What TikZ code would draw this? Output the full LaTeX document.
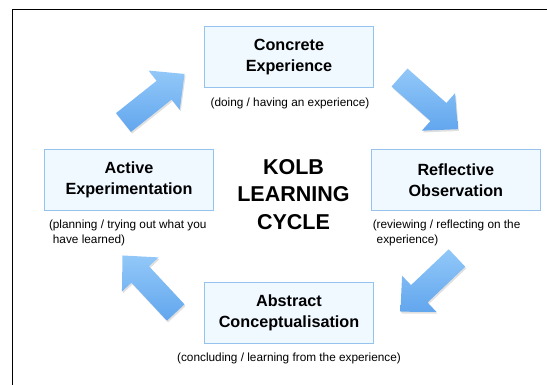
\documentclass[tikz,border=0pt]{standalone}
\usepackage{fontspec}
\setmainfont{Liberation Sans}
\definecolor{boxfill}{HTML}{F0F9FF}
\definecolor{boxline}{HTML}{96C2EE}
\definecolor{arrowlight}{HTML}{92C8F8}
\definecolor{arrowdark}{HTML}{62A6EE}
\newcommand\kolbarrow[4]{%
  \fill[black,opacity=0.12,shift={(#1+1,#2+1.8)},rotate=#3]
    (0,-12)--(52,-12)--(52,-25)--(78,0)--(52,25)--(52,12)--(0,12)--cycle;
  \shade[top color=arrowlight,bottom color=arrowdark,shift={(#1,#2)},rotate=#3]
    (0,-12)--(52,-12)--(52,-25)--(78,0)--(52,25)--(52,12)--(0,12)--cycle;
  \coordinate (#4) at (#1,#2);}
\tikzset{
  stagebox/.style={draw=boxline, fill=boxfill, line width=0.9pt,
    minimum width=169pt, minimum height=60.7pt, align=center, inner sep=0pt,
    font=\fontsize{16.2}{21}\selectfont\bfseries},
  captext/.style={font=\fontsize{11.8}{15}\selectfont, inner sep=0pt, align=left},
  titletext/.style={font=\fontsize{21.5}{27.5}\selectfont\bfseries, align=center, inner sep=0pt},
  frameline/.style={draw=black, line width=1pt}
}
\begin{document}
\begin{tikzpicture}[x=1pt,y=-1pt]
\useasboundingbox (0,0) rectangle (547,385);
\coordinate (fbl) at (12.5,385);
\coordinate (ftl) at (12.5,9.5);
\coordinate (ftr) at (547,9.5);
\draw[frameline] (fbl) -- (ftl) -- (ftr);

\node[stagebox] (ce) at (289,57) {Concrete\\Experience};
\node[stagebox] (ae) at (129,180.3) {Active\\Experimentation};
\node[stagebox] (ro) at (455.8,180.3) {Reflective\\Observation};
\node[stagebox] (ac) at (289,313) {Abstract\\Conceptualisation};

\node[captext] (cecap) at (290,103.3) {(doing / having an experience)};
\node[captext] (accap) at (289,358.3) {(concluding / learning from the experience)};
\node[captext, anchor=north west] (aecap) at (48.8,219.8) {(planning / trying out what you\\\hphantom{(}have learned)};
\node[captext, anchor=north west] (rocap) at (372.6,219.8) {(reviewing / reflecting on the\\\hphantom{(}experience)};

\node[titletext] (title) at (293.5,194.5) {KOLB\\LEARNING\\CYCLE};

\kolbarrow{123.5}{122.5}{38.5}{a1}
\kolbarrow{399.5}{77.5}{-41.5}{a2}
\kolbarrow{457}{258}{-136.5}{a3}
\kolbarrow{175.7}{312.5}{133}{a4}
\end{tikzpicture}
\end{document}
